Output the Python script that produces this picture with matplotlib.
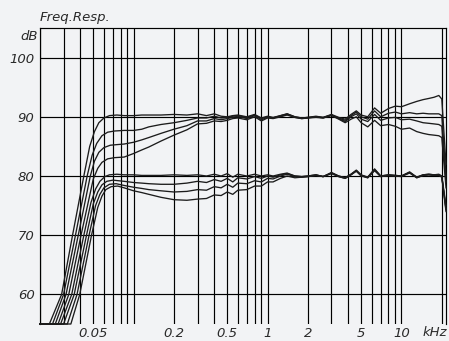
import matplotlib.pyplot as plt

# low-frequency roll-off of each curve (Hz, dB)
u1_f = [20, 23.5, 29, 35, 42.5, 47, 51, 55, 60, 66, 75, 85]
u1_lf = [55, 55, 60, 70, 80, 85, 87.5, 89, 89.8, 90.2, 90.3, 90.2]
u2_f = [20, 24.8, 30, 36.8, 45, 49, 53, 58, 64, 72, 85]
u2_lf = [55, 55, 60, 70, 80, 83.5, 85.5, 86.8, 87.4, 87.6, 87.7]
u3_f = [20, 26, 31.3, 38.6, 47.5, 51, 55, 60, 67, 75, 85]
u3_lf = [55, 55, 60, 70, 80, 82.5, 84, 84.8, 85.2, 85.3, 85.4]
u4_f = [20, 27.3, 32.8, 40.5, 50, 54, 58, 64, 72, 85]
u4_lf = [55, 55, 60, 70, 79.5, 81.3, 82.3, 82.9, 83.1, 83.2]
l1_f = [20, 28.5, 34.5, 42.5, 48, 52, 56, 61, 66, 75, 85]
l1_lf = [55, 55, 60, 70, 75.5, 77.8, 79.1, 79.9, 80.2, 80.3, 80.2]
l2_f = [20, 30, 36, 44.5, 50, 54, 58, 63, 70, 85]
l2_lf = [55, 55, 60, 70, 75.3, 77.3, 78.5, 79.1, 79.3, 79.1]
l3_f = [20, 32, 37.8, 46.5, 52, 56, 60, 66, 74, 85]
l3_lf = [55, 55, 60, 70, 75, 76.9, 78.0, 78.6, 78.7, 78.4]
l4_f = [20, 34, 39.6, 48.5, 54, 58, 62, 68, 76, 85]
l4_lf = [55, 55, 60, 70, 74.7, 76.6, 77.7, 78.2, 78.3, 78.0]

# shared grid from 100 Hz upward
hf_f = [100, 115, 130, 160, 200, 250, 300, 350, 400, 450, 500, 550, 600, 700,
        800, 900, 1000, 1100, 1250, 1400, 1600, 1800, 2000, 2300, 2600, 3000,
        3400, 3800, 4200, 4600, 5000, 5600, 6300, 7000, 8000, 9000, 10000,
        11500, 13000, 14500, 16000, 17500, 19000, 20000, 21500]

u1_hf = [90.2, 90.3, 90.3, 90.3, 90.4, 90.3, 90.5, 90.2, 90.5, 90.1, 90.0, 90.2,
         90.3, 90.0, 90.4, 89.8, 90.1, 89.9, 90.2, 90.5, 90.0, 89.8, 89.9, 90.1,
         89.9, 90.4, 89.9, 89.6, 90.4, 91.0, 90.3, 90.0, 91.5, 90.6, 91.4, 91.8,
         91.7, 92.2, 92.6, 92.9, 93.1, 93.3, 93.6, 93.0, 82.0]
u2_hf = [87.7, 87.9, 88.3, 88.7, 89.0, 89.4, 89.8, 89.8, 90.1, 89.8, 89.9, 90.1,
         90.2, 89.9, 90.3, 89.7, 90.0, 89.8, 90.2, 90.5, 90.0, 89.8, 89.9, 90.0,
         89.9, 90.3, 89.8, 89.4, 90.2, 90.8, 90.0, 89.6, 91.0, 90.0, 90.6, 90.8,
         90.5, 90.7, 90.5, 90.6, 90.5, 90.5, 90.5, 90.2, 80.0]
u3_hf = [85.7, 86.1, 86.5, 87.2, 87.9, 88.5, 89.3, 89.3, 89.7, 89.5, 89.7, 89.9,
         90.1, 89.7, 90.2, 89.5, 89.9, 89.8, 90.1, 90.4, 89.9, 89.7, 89.8, 90.0,
         89.8, 90.3, 89.7, 89.2, 90.0, 90.5, 89.6, 89.2, 90.4, 89.4, 89.8, 89.9,
         89.5, 89.6, 89.3, 89.0, 88.9, 88.8, 88.7, 88.4, 79.0]
u4_hf = [83.8, 84.4, 84.9, 85.9, 86.9, 87.8, 88.8, 88.9, 89.3, 89.2, 89.4, 89.7,
         89.8, 89.5, 90.0, 89.3, 89.8, 89.7, 90.0, 90.3, 89.9, 89.7, 89.8, 89.9,
         89.8, 90.2, 89.6, 89.0, 89.6, 90.0, 89.0, 88.3, 89.4, 88.5, 88.7, 88.4,
         87.9, 88.1, 87.5, 87.2, 87.0, 86.9, 86.8, 86.5, 78.0]
l1_hf = [80.2, 80.1, 80.1, 80.1, 80.2, 80.1, 80.2, 80.0, 80.3, 80.0, 80.4, 79.8,
         80.3, 80.0, 80.3, 80.0, 80.2, 80.0, 80.3, 80.5, 80.0, 79.9, 80.0, 80.2,
         79.9, 80.6, 80.0, 79.7, 80.3, 81.0, 80.2, 79.8, 81.2, 80.0, 80.2, 80.1,
         80.0, 80.7, 79.8, 80.2, 80.3, 80.2, 80.3, 80.0, 75.0]
l2_hf = [78.9, 78.8, 78.7, 78.6, 78.6, 78.8, 79.1, 78.9, 79.4, 79.1, 79.6, 79.0,
         79.7, 79.5, 79.9, 79.6, 80.0, 79.8, 80.2, 80.4, 80.0, 79.9, 80.0, 80.2,
         79.9, 80.5, 80.0, 79.7, 80.3, 80.9, 80.1, 79.8, 81.1, 80.0, 80.2, 80.1,
         80.0, 80.6, 79.8, 80.2, 80.3, 80.2, 80.2, 79.9, 74.5]
l3_hf = [78.1, 77.9, 77.7, 77.5, 77.3, 77.4, 77.7, 77.6, 78.2, 78.0, 78.6, 78.1,
         78.8, 78.7, 79.2, 79.0, 79.6, 79.5, 80.0, 80.3, 79.9, 79.8, 79.9, 80.1,
         79.9, 80.5, 79.9, 79.6, 80.2, 80.9, 80.1, 79.7, 81.0, 79.9, 80.1, 80.0,
         80.0, 80.6, 79.7, 80.1, 80.2, 80.1, 80.2, 79.9, 74.3]
l4_hf = [77.5, 77.2, 76.9, 76.4, 76.0, 75.9, 76.1, 76.2, 76.8, 76.7, 77.3, 76.9,
         77.6, 77.7, 78.3, 78.3, 79.0, 79.0, 79.6, 80.0, 79.7, 79.8, 79.9, 80.1,
         79.9, 80.4, 79.9, 79.6, 80.2, 80.8, 80.0, 79.7, 80.9, 79.9, 80.1, 80.0,
         79.9, 80.5, 79.7, 80.1, 80.2, 80.1, 80.1, 79.8, 74.0]

grid_freqs = [20, 30, 40, 50, 60, 70, 80, 90, 100, 200, 300, 400, 500, 600, 700,
              800, 900, 1000, 2000, 3000, 4000, 5000, 6000, 7000, 8000, 9000,
              10000, 20000]
tick_labels = {50: '0.05', 200: '0.2', 500: '0.5', 1000: '1', 2000: '2',
               5000: '5', 10000: '10'}
db_ticks = [60, 70, 80, 90, 100]

bg = '#f2f3f5'
ink = '#1c1c1c'
txt = '#2a2a2a'
fs = 9.5

fig = plt.figure(figsize=(4.49, 3.41), dpi=100, facecolor=bg)
ax = fig.add_axes([40 / 449, 17 / 341, 406 / 449, 296 / 341], facecolor=bg)

curves = [(u1_f, u1_lf, u1_hf), (u2_f, u2_lf, u2_hf), (u3_f, u3_lf, u3_hf),
          (u4_f, u4_lf, u4_hf), (l1_f, l1_lf, l1_hf), (l2_f, l2_lf, l2_hf),
          (l3_f, l3_lf, l3_hf), (l4_f, l4_lf, l4_hf)]
for f_lf, db_lf, db_hf in curves:
    ax.plot(f_lf + hf_f, db_lf + db_hf, color=ink, lw=0.95, zorder=3,
            clip_on=False)

ax.set_xscale('log')
ax.set_xlim(20, 21500)
ax.set_ylim(55, 105)

ax.set_xticks(grid_freqs)
ax.set_xticklabels([tick_labels.get(f, '') for f in grid_freqs])
ax.xaxis.set_minor_locator(plt.NullLocator())
ax.set_yticks(db_ticks)
ax.set_yticklabels([str(v) for v in db_ticks])
ax.tick_params(length=0, labelsize=fs, colors=txt)
ax.tick_params(axis='x', pad=2)
ax.tick_params(axis='y', pad=4)
for lab in ax.get_xticklabels() + ax.get_yticklabels():
    lab.set_fontstyle('italic')

ax.grid(True, color='black', lw=0.85)
ax.spines['bottom'].set_visible(False)
for side in ['top', 'left', 'right']:
    ax.spines[side].set_color('black')
    ax.spines[side].set_linewidth(0.85)

fig.text(40 / 449, 1 - 17 / 341, 'Freq.Resp.', fontsize=fs, style='italic',
         color=txt, ha='left', va='center')
fig.text(38 / 449, 1 - 36 / 341, 'dB', fontsize=fs, style='italic',
         color=txt, ha='right', va='center')
fig.text(435 / 449, 1 - 333 / 341, 'kHz', fontsize=fs, style='italic',
         color=txt, ha='center', va='center')

fig.savefig('out.png', dpi=100, facecolor=bg)
